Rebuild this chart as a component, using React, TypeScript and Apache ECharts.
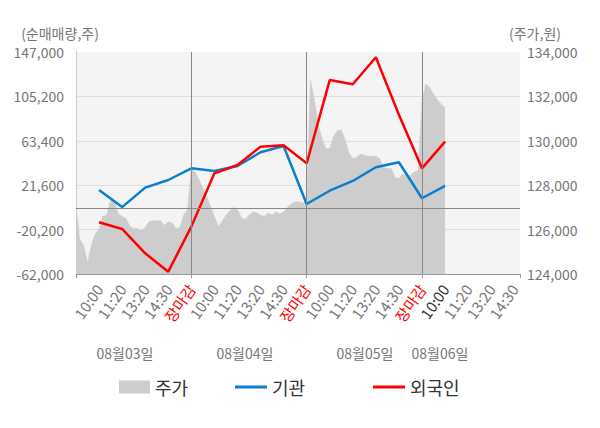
import React, { useEffect, useRef } from "react";
import * as echarts from "echarts";

// ---- data ----
const DAY_TIMES = ["10:00", "11:20", "13:20", "14:30", "장마감"];
const DATE_LABELS = ["08월03일", "08월04일", "08월05일", "08월06일"];
const LAST_DAY_TIMES = ["10:00", "11:20", "13:20", "14:30"];

// flow series points at time slots (1 slot = one label step)
const FLOW_SLOTS = [1, 2, 3, 4, 5, 6, 7, 8, 9, 10, 11, 12, 13, 14, 15, 16];
const INSTITUTION = [17000, 1000, 19300, 26500, 37500, 35000, 39700, 52600, 58500, 3900, 16400, 25600, 38500, 43200, 9300, 21000];
const FOREIGN = [-13300, -19600, -42500, -59800, -17400, 32800, 40600, 57900, 59200, 42200, 120600, 116600, 142000, 88000, 37500, 62600];

// stock price, sampled 6 times per slot from 09:00 of 08/03
const PRICE_STEPS_PER_SLOT = 6;
const PRICE = [
  127000, 125550, 125300, 124500, 125300, 125800, 126050, 126600, 126650, 127350,
  127300, 126700, 126600, 126500, 126150, 126050, 126050, 125950, 126100, 126350,
  126400, 126400, 126400, 126200, 126350, 126300, 126050, 126100, 126650, 126900,
  128750, 128600, 128250, 127850, 127450, 127050, 126600, 126150, 126350, 126650,
  126850, 127000, 126900, 126550, 126450, 126650, 126800, 126750, 126650, 126600,
  126750, 126650, 126800, 126700, 126800, 127000, 127150, 127250, 127250, 127200,
  127350, 132750, 131850, 130750, 130100, 129650, 129650, 130200, 130450, 130500,
  130050, 129450, 129200, 129250, 129400, 129350, 129300, 129300, 129300, 129200,
  128800, 128750, 128750, 128350, 128300, 128500, 128400, 128450, 128600, 128650,
  131850, 132550, 132400, 132100, 131850, 131650, 131500,
];

// axes
const FLOW_MIN = -62000;
const FLOW_MAX = 147000;
const FLOW_INTERVAL = 41800;
const PRICE_MIN = 124000;
const PRICE_MAX = 134000;
const PRICE_INTERVAL = 2000;
const X_MAX = 19.25;
const DAY_BOUNDARIES = [5, 10, 15];
const CURRENT_SLOT = 16;

const FONT = "'Noto Sans CJK KR', 'Noto Sans', sans-serif";

const TIME_LABELS: string[] = [];
for (let d = 0; d < 3; d++) TIME_LABELS.push(...DAY_TIMES);
TIME_LABELS.push(...LAST_DAY_TIMES);
const LABEL_SLOTS = TIME_LABELS.map((_, i) => i + 1);

const OFFSET = -FLOW_MIN;
const fmt = (v: number) => {
  const r = Math.round(v);
  const s = Math.abs(r).toString().replace(/\B(?=(\d{3})+(?!\d))/g, ",");
  return (r < 0 ? "-" : "") + s;
};

export default function App() {
  const ref = useRef<HTMLDivElement>(null);
  useEffect(() => {
    document.body.style.margin = "0";
    if (!ref.current) return;
    const chart = echarts.init(ref.current, undefined, { renderer: "svg" });
    const dateX = [125, 245, 365, 440];
    chart.setOption({
      animation: false,
      textStyle: { fontFamily: FONT },
      grid: {
        left: 76,
        right: 80,
        top: 52,
        bottom: 154,
        show: true,
        backgroundColor: "#f4f4f4",
        borderWidth: 0,
      },
      xAxis: [
        {
          type: "value",
          min: 0,
          max: X_MAX,
          position: "bottom",
          axisLine: { show: true, onZero: false, lineStyle: { color: "#999" } },
          axisTick: {
            show: true,
            customValues: [0, ...DAY_BOUNDARIES, X_MAX],
            length: 4,
            lineStyle: { color: "#999" },
          },
          splitLine: { show: false },
          axisLabel: {
            customValues: LABEL_SLOTS,
            rotate: 55,
            margin: 12,
            fontSize: 15,
            color: "#777",
            fontFamily: FONT,
            formatter: (v: number) => {
              const idx = Math.round(v) - 1;
              const t = TIME_LABELS[idx] ?? "";
              if (t === "장마감") return "{r|" + t + "}";
              if (Math.round(v) === CURRENT_SLOT) return "{b|" + t + "}";
              return t;
            },
            rich: {
              r: { color: "#ff0000", fontSize: 15, fontFamily: FONT },
              b: { color: "#333", fontSize: 15, fontFamily: FONT },
            },
          },
        },
        {
          type: "value",
          min: 0,
          max: X_MAX,
          position: "top",
          axisLine: { show: false },
          axisTick: {
            show: true,
            customValues: [0, ...DAY_BOUNDARIES],
            length: 7,
            lineStyle: { color: "#888" },
          },
          axisLabel: { show: false },
          splitLine: { show: false },
        },
      ],
      yAxis: [
        {
          type: "value",
          min: 0,
          max: FLOW_MAX - FLOW_MIN,
          interval: FLOW_INTERVAL,
          axisLine: { show: true, lineStyle: { color: "#888" } },
          axisTick: { show: false },
          axisLabel: {
            formatter: (v: number) => fmt(v - OFFSET),
            fontSize: 14,
            color: "#777",
            margin: 12,
            fontFamily: FONT,
          },
          splitLine: {
            show: true,
            lineStyle: { color: ["#ddd", "#ddd", "#ddd", "#ddd", "#ddd", "#f4f4f4"], width: 1 },
          },
        },
        {
          type: "value",
          position: "right",
          min: PRICE_MIN,
          max: PRICE_MAX,
          interval: PRICE_INTERVAL,
          axisLine: { show: true, lineStyle: { color: "#ccc" } },
          axisTick: { show: false },
          axisLabel: {
            formatter: (v: number) => fmt(v),
            fontSize: 14,
            color: "#777",
            margin: 7,
            fontFamily: FONT,
          },
          splitLine: { show: false },
        },
      ],
      legend: [
        {
          data: ["주가"],
          left: 114,
          top: 373,
          icon: "rect",
          itemWidth: 31,
          itemHeight: 13,
          textStyle: { fontSize: 18, color: "#333", fontFamily: FONT },
        },
        {
          data: ["기관"],
          left: 230,
          top: 373,
          icon: "rect",
          itemWidth: 32,
          itemHeight: 3,
          textStyle: { fontSize: 18, color: "#333", fontFamily: FONT },
        },
        {
          data: ["외국인"],
          left: 368,
          top: 373,
          icon: "rect",
          itemWidth: 32,
          itemHeight: 3,
          textStyle: { fontSize: 18, color: "#333", fontFamily: FONT },
        },
      ],
      graphic: [
        {
          type: "text",
          x: 60,
          y: 33,
          style: { text: "(순매매량,주)", fontSize: 14, fill: "#777", fontFamily: FONT, align: "center", verticalAlign: "middle" },
        },
        {
          type: "text",
          x: 535,
          y: 33,
          style: { text: "(주가,원)", fontSize: 14, fill: "#777", fontFamily: FONT, align: "center", verticalAlign: "middle" },
        },
        ...DATE_LABELS.map((d, i) => ({
          type: "text",
          x: dateX[i],
          y: 353,
          style: { text: d, fontSize: 14, fill: "#777", fontFamily: FONT, align: "center", verticalAlign: "middle" },
        })),
      ],
      series: [
        {
          name: "주가",
          type: "line",
          xAxisIndex: 0,
          yAxisIndex: 1,
          data: PRICE.map((p, i) => [i / PRICE_STEPS_PER_SLOT, p]),
          showSymbol: false,
          symbol: "none",
          color: "#cdcdcd",
          lineStyle: { width: 0.5, color: "#cdcdcd" },
          areaStyle: { color: "#cdcdcd", opacity: 1, origin: "start" },
          silent: true,
          z: 1,
        },
        {
          name: "기관",
          type: "line",
          xAxisIndex: 0,
          yAxisIndex: 0,
          data: FLOW_SLOTS.map((s, i) => [s, INSTITUTION[i] + OFFSET]),
          showSymbol: false,
          symbol: "none",
          color: "#0a7fd0",
          lineStyle: { width: 2.5, color: "#0a7fd0" },
          z: 3,
          markLine: {
            silent: true,
            symbol: "none",
            label: { show: false },
            lineStyle: { color: "#888", width: 1, type: "solid" },
            data: [
              ...DAY_BOUNDARIES.map((b) => ({ xAxis: b })),
              { yAxis: OFFSET },
            ],
          },
        },
        {
          name: "외국인",
          type: "line",
          xAxisIndex: 0,
          yAxisIndex: 0,
          data: FLOW_SLOTS.map((s, i) => [s, FOREIGN[i] + OFFSET]),
          showSymbol: false,
          symbol: "none",
          color: "#ff0000",
          lineStyle: { width: 2.5, color: "#ff0000" },
          z: 4,
        },
      ],
    });
    return () => chart.dispose();
  }, []);
  return <div ref={ref} style={{ width: 600, height: 428 }} />;
}
